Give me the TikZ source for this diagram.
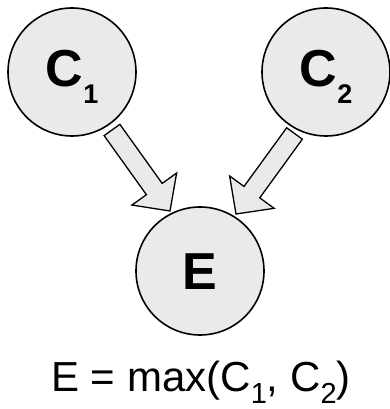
\documentclass[tikz,border=0pt]{standalone}
\usepackage{fontspec}
\setmainfont{Liberation Sans}
\usetikzlibrary{calc}
\definecolor{nodegray}{HTML}{EAEAEA}
\newcommand{\blockarrow}[2]{%
  \coordinate (ba-b) at ($(#2)!27pt!(#1)$);
  \draw[arrowbox] ($(#1)!9.7pt!90:(#2)$) -- ($(ba-b)!9.7pt!-90:(#1)$) -- ($(ba-b)!27.5pt!-90:(#1)$) -- (#2) -- ($(ba-b)!27.5pt!90:(#1)$) -- ($(ba-b)!9.7pt!90:(#1)$) -- ($(#1)!9.7pt!-90:(#2)$) -- cycle;}
\tikzset{
  varnode/.style={circle, draw=black, line width=1.6pt, fill=nodegray, minimum size=128pt, inner sep=0pt,
    font=\bfseries\fontsize{52}{52}\selectfont, text height=37pt, text depth=7pt},
  arrowbox/.style={draw=black, line width=1.3pt, fill=nodegray, line join=miter},
  formula/.style={inner sep=0pt, font=\fontsize{42}{42}\selectfont}
}
\newcommand{\lblsub}[1]{\raisebox{-17pt}{\fontsize{27}{27}\selectfont #1}}
\newcommand{\fsub}[1]{\raisebox{-12pt}{\fontsize{29}{29}\selectfont #1}}
\begin{document}
\begin{tikzpicture}[x=1pt,y=1pt]
  \useasboundingbox (0,0) rectangle (390,409);
  \node[varnode] (c1) at (72,337) {C\lblsub{1}};
  \node[varnode] (c2) at (326,337) {C\lblsub{2}};
  \node[varnode, text depth=0pt] (e) at (200,138) {E};
  \coordinate (t1) at (112,279);
  \coordinate (h1) at (170,198);
  \coordinate (t2) at (294.5,275.5);
  \coordinate (h2) at (236,195);
  \blockarrow{t1}{h1}
  \blockarrow{t2}{h2}
  \node[formula, anchor=base] (f) at (201,17) {E = max(C\fsub{1}, C\fsub{2})};
\end{tikzpicture}
\end{document}
